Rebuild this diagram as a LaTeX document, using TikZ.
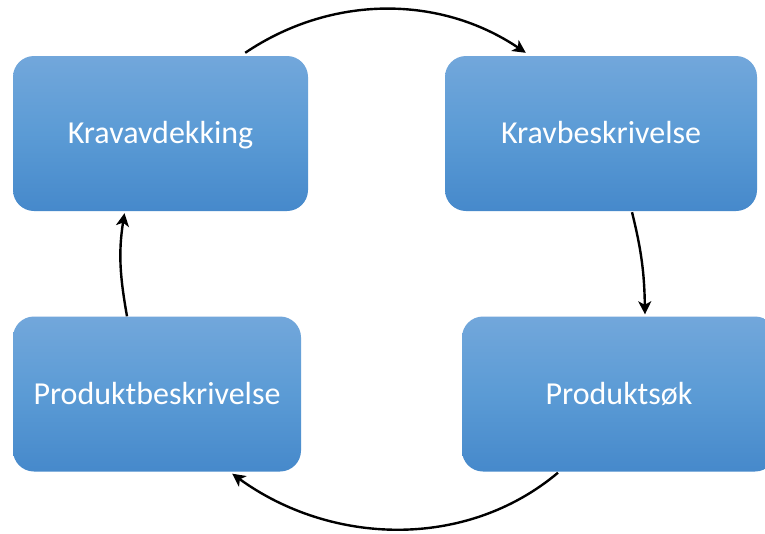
\documentclass[tikz,border=0pt]{standalone}
\usepackage{fontspec}
\setmainfont{Carlito}
\usetikzlibrary{arrows.meta}
\definecolor{boxtop}{HTML}{72A7DB}
\definecolor{boxmid}{HTML}{5B9BD5}
\definecolor{boxbot}{HTML}{4689CB}
\begin{document}
\begin{tikzpicture}[x=1pt,y=1pt,
  stage/.style={rectangle, rounded corners=21pt, draw=none,
    top color=boxtop, bottom color=boxbot, middle color=boxmid,
    text=white, font=\fontsize{32}{36}\selectfont,
    text height=20.5pt, text depth=0pt, inner sep=0pt,
    minimum height=155pt},
  flow/.style={line width=2.4pt, -{Stealth[length=13pt,width=13pt,inset=3.5pt]}}]
\useasboundingbox (0,0) rectangle (765,-533);
\fill[white] (0,0) rectangle (765,-533);

% the four stages of the cycle
\node[stage, minimum width=295pt] (kd) at (160.5,-133.5) {Kravavdekking};
\node[stage, minimum width=312pt] (kb) at (601,-133.5) {Kravbeskrivelse};
\node[stage, minimum width=288pt] (pb) at (157,-394) {Produktbeskrivelse};
\node[stage, minimum width=314pt] (ps) at (619,-394) {Produktsøk};

% clockwise arcs between the stages
\draw[flow] ([shift={(-63,3)}]kd.north east) to[out=34, in=146, looseness=0.95]
  ([shift={(81,3)}]kb.north west);
\draw[flow] ([shift={(31,-1)}]kb.south) to[out=-76, in=91]
  ([shift={(26,2)}]ps.north);
\draw[flow] ([shift={(-61,-1)}]ps.south) to[out=-140, in=-36, looseness=0.95]
  ([shift={(-69,-2)}]pb.south east);
\draw[flow] ([shift={(-30,0)}]pb.north) to[out=100, in=-99]
  ([shift={(-36,-2)}]kd.south);
\end{tikzpicture}
\end{document}
